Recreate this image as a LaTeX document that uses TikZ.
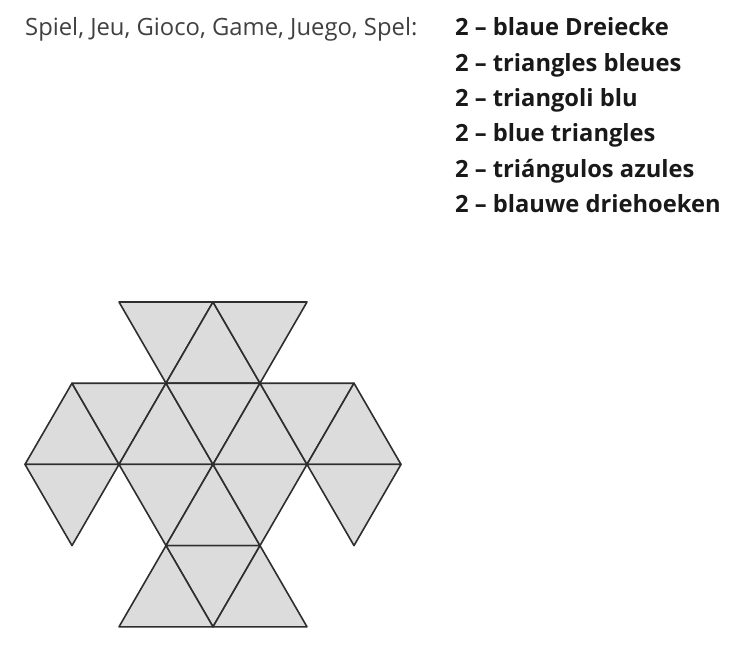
\documentclass[tikz,border=0pt]{standalone}
\usepackage{fontspec}
\setmainfont{Open Sans}
\usepackage{tikz}
\usetikzlibrary{positioning}
\definecolor{tilegray}{HTML}{DCDCDC}
\definecolor{edgegray}{HTML}{2E2E2E}
\definecolor{textgray}{HTML}{404040}
\tikzset{
x=1bp, y=-1bp, % pixel units, origin at the top left
tile/.style={fill=tilegray, draw=edgegray, line width=1.6bp, line join=round}, % one triangle
gamelabel/.style={anchor=base west, inner sep=0pt, text=textgray, font=\fontsize{23.9}{28}\selectfont}, % the plain heading
countlabel/.style={inner sep=0pt, text=black!90, font=\fontsize{23.8}{28}\selectfont\bfseries}, % the bold lines
}

\begin{document}
\begin{tikzpicture}

            \useasboundingbox (0,0) rectangle (750,647);

            % lattice points: half side 47, row height 81
            \foreach \k in {0,...,8}
                \foreach \r in {0,...,4}
                    \coordinate (p\k\r) at ({25+47*\k},{302+81.2*\r});

            % the eighteen triangles
            \foreach \a/\b/\c in {20/40/31, 31/51/40, 40/60/51,
                                  02/22/11, 11/31/22, 22/42/31, 31/51/42, 42/62/51, 51/71/62, 62/82/71,
                                  02/22/13, 22/42/33, 33/53/42, 42/62/53, 62/82/73,
                                  33/53/44, 24/44/33, 44/64/53}
                \filldraw[tile] (p\a) -- (p\b) -- (p\c) -- cycle;

            \node[gamelabel] (game) at (25,35.7) {Spiel, Jeu, Gioco, Game, Juego, Spel:};
            \node[countlabel, anchor=base west] (de) at (455,35.7) {2 – blaue Dreiecke};
            \node[countlabel, below=35.4bp of de.base west, anchor=base west] (fr) {2 – triangles bleues};
            \node[countlabel, below=35.4bp of fr.base west, anchor=base west] (it) {2 – triangoli blu};
            \node[countlabel, below=35.4bp of it.base west, anchor=base west] (en) {2 – blue triangles};
            \node[countlabel, below=35.4bp of en.base west, anchor=base west] (es) {2 – triángulos azules};
            \node[countlabel, below=35.4bp of es.base west, anchor=base west] (nl) {2 – blauwe driehoeken};
        \end{tikzpicture}
\end{document}
